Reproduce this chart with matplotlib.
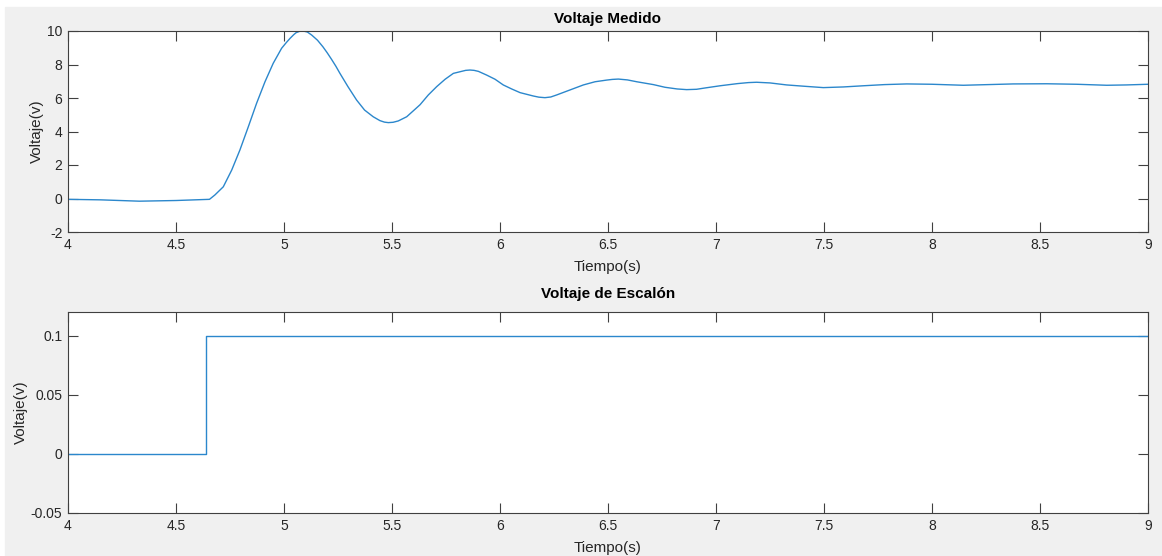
import matplotlib.pyplot as plt
from matplotlib.patches import Rectangle

# Voltaje medido
t_medido = [4.00, 4.15, 4.33, 4.50, 4.61, 4.655, 4.68, 4.719, 4.758, 4.796,
            4.835, 4.873, 4.912, 4.95, 4.989, 5.01, 5.028, 5.045, 5.056,
            5.072, 5.089, 5.108, 5.128, 5.155, 5.18, 5.2, 5.22, 5.24, 5.259,
            5.296, 5.336, 5.373, 5.413, 5.444, 5.465, 5.483, 5.505, 5.529,
            5.568, 5.606, 5.63, 5.668, 5.707, 5.746, 5.784, 5.822, 5.841,
            5.861, 5.88, 5.9, 5.938, 5.977, 6.015, 6.054, 6.093, 6.154, 6.18,
            6.208, 6.235, 6.262, 6.324, 6.386, 6.44, 6.494, 6.52, 6.548,
            6.59, 6.633, 6.71, 6.764, 6.82, 6.864, 6.91, 6.95, 7.019, 7.10,
            7.15, 7.188, 7.25, 7.327, 7.41, 7.497, 7.59, 7.682, 7.78, 7.883,
            8.0, 8.145, 8.26, 8.376, 8.531, 8.67, 8.809, 8.9, 9.0]
v_medido = [-0.05, -0.08, -0.16, -0.12, -0.07, -0.05, 0.21, 0.7, 1.7, 2.9,
            4.29, 5.68, 6.97, 8.07, 8.97, 9.3, 9.56, 9.78, 9.9,
            9.98, 10.0, 9.94, 9.76, 9.45, 9.06, 8.7, 8.31, 7.9, 7.47,
            6.68, 5.88, 5.28, 4.88, 4.65, 4.56, 4.53, 4.55, 4.63,
            4.88, 5.32, 5.6, 6.18, 6.68, 7.12, 7.47, 7.59, 7.65,
            7.67, 7.65, 7.59, 7.37, 7.12, 6.78, 6.54, 6.32, 6.12, 6.05,
            6.02, 6.06, 6.18, 6.48, 6.78, 6.97, 7.07, 7.11, 7.13,
            7.08, 6.97, 6.80, 6.64, 6.54, 6.5, 6.52, 6.6, 6.73, 6.86,
            6.92, 6.94, 6.9, 6.78, 6.7, 6.62, 6.66, 6.73, 6.8, 6.84,
            6.82, 6.76, 6.8, 6.84, 6.85, 6.82, 6.76, 6.78, 6.82]

# Voltaje de escalon
t_escalon = [4.0, 4.637, 9.0]
v_escalon = [0.0, 0.1, 0.1]

x_ticks = [4, 4.5, 5, 5.5, 6, 6.5, 7, 7.5, 8, 8.5, 9]
x_ticklabels = ["4", "4.5", "5", "5.5", "6", "6.5", "7", "7.5", "8", "8.5", "9"]
y1_ticks = [-2, 0, 2, 4, 6, 8, 10]
y1_ticklabels = ["-2", "0", "2", "4", "6", "8", "10"]
y2_ticks = [-0.05, 0, 0.05, 0.1]
y2_ticklabels = ["-0.05", "0", "0.05", "0.1"]

W, H = 1162, 556
line_color = "#2b87cc"
axis_color = "#404040"
text_color = "#262626"

plt.rcParams['font.family'] = ['Liberation Sans', 'DejaVu Sans']
plt.rcParams['axes.unicode_minus'] = False

fig = plt.figure(figsize=(W / 100, H / 100), dpi=100, facecolor="white")
fig.patches.append(Rectangle((5 / W, 0), 1 - 5 / W, (H - 7) / H,
                             transform=fig.transFigure, color="#f0f0f0",
                             zorder=-10))


def style_axes(ax):
    ax.set_facecolor("white")
    for sp in ax.spines.values():
        sp.set_color(axis_color)
        sp.set_linewidth(0.8)
    ax.tick_params(direction="in", length=7, width=0.8, color=axis_color,
                   labelcolor=text_color, labelsize=10,
                   top=True, right=True)
    ax.tick_params(axis="x", pad=4)
    ax.tick_params(axis="y", pad=4)
    ax.set_xlim(4, 9)
    ax.set_xticks(x_ticks)
    ax.set_xticklabels(x_ticklabels)


ax1 = fig.add_axes([68 / W, (H - 232) / H, 1080 / W, 201 / H])
style_axes(ax1)
ax1.plot(t_medido, v_medido, color=line_color, lw=1.0)
ax1.set_ylim(-2, 10)
ax1.set_yticks(y1_ticks)
ax1.set_yticklabels(y1_ticklabels)
ax1.set_title("Voltaje Medido", fontsize=11, fontweight="bold",
              color="black", pad=6)
ax1.set_xlabel("Tiempo(s)", fontsize=11, color=text_color)
ax1.set_ylabel("Voltaje(v)", fontsize=11, color=text_color)
ax1.xaxis.set_label_coords(0.5, -0.14)
ax1.yaxis.set_label_coords(-0.022, 0.5)

ax2 = fig.add_axes([68 / W, (H - 513) / H, 1080 / W, 201 / H])
style_axes(ax2)
ax2.plot(t_escalon, v_escalon, color=line_color, lw=1.0,
         drawstyle="steps-post")
ax2.set_ylim(-0.05, 0.12)
ax2.set_yticks(y2_ticks)
ax2.set_yticklabels(y2_ticklabels)
ax2.set_title("Voltaje de Escalón", fontsize=11, fontweight="bold",
              color="black", pad=10)
ax2.set_xlabel("Tiempo(s)", fontsize=11, color=text_color)
ax2.set_ylabel("Voltaje(v)", fontsize=11, color=text_color)
ax2.xaxis.set_label_coords(0.5, -0.14)
ax2.yaxis.set_label_coords(-0.037, 0.5)

fig.savefig("out.png", dpi=100, facecolor=fig.get_facecolor())
